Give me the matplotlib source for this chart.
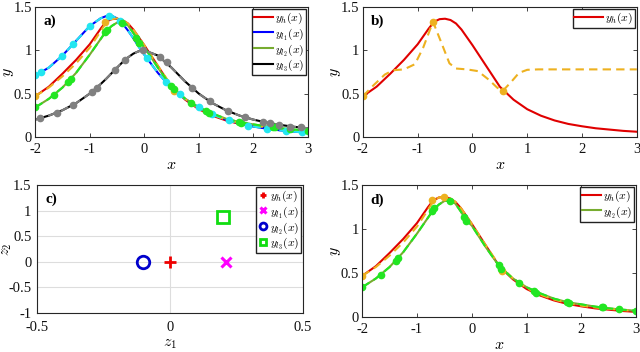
import matplotlib
matplotlib.use('Agg')
import matplotlib.pyplot as plt
from matplotlib.ticker import MultipleLocator, FuncFormatter

plt.rcParams['font.family'] = 'Liberation Serif'
plt.rcParams['mathtext.fontset'] = 'cm'
plt.rcParams['axes.unicode_minus'] = False

# common x grid for the curves
x = [-2, -1.75, -1.5, -1.25, -1, -0.8, -0.7, -0.6, -0.5, -0.4, -0.3, -0.2, -0.1, 0,
     0.25, 0.5, 0.75, 1, 1.25, 1.5, 1.75, 2, 2.25, 2.5, 2.75, 3]

y_h = [0.47, 0.58, 0.73, 0.89, 1.07, 1.25, 1.33, 1.36, 1.365, 1.35, 1.31, 1.24, 1.15, 1.06,
       0.82, 0.58, 0.43, 0.32, 0.245, 0.19, 0.15, 0.123, 0.10, 0.085, 0.07, 0.06]
y_l1 = [0.71, 0.80, 0.94, 1.11, 1.28, 1.37, 1.395, 1.40, 1.37, 1.31, 1.23, 1.14, 1.04, 0.95,
        0.74, 0.56, 0.44, 0.34, 0.26, 0.20, 0.155, 0.12, 0.095, 0.075, 0.06, 0.05]
y_l2 = [0.34, 0.44, 0.57, 0.74, 0.95, 1.13, 1.22, 1.28, 1.32, 1.325, 1.29, 1.20, 1.10, 1.04,
        0.80, 0.58, 0.44, 0.34, 0.27, 0.21, 0.17, 0.145, 0.12, 0.10, 0.085, 0.072]
y_l3 = [0.2, 0.246, 0.308, 0.39, 0.5, 0.61, 0.67, 0.735, 0.8, 0.862, 0.917, 0.962, 0.99, 1.0,
        0.94, 0.8, 0.64, 0.5, 0.39, 0.308, 0.246, 0.2, 0.165, 0.138, 0.117, 0.1]
# multi-fidelity prediction of y_h (dashed orange in a and d)
y_mf = [0.47, 0.57, 0.70, 0.85, 1.03, 1.22, 1.32, 1.36, 1.37, 1.35, 1.31, 1.24, 1.15, 1.06,
        0.82, 0.59, 0.44, 0.33, 0.255, 0.20, 0.16, 0.13, 0.11, 0.095, 0.08, 0.07]

# single-fidelity prediction (panel b)
x_sf = [-2, -1.8, -1.6, -1.45, -1.25, -1.05, -0.9, -0.72, -0.55, -0.42, -0.3, -0.1, 0.1,
        0.3, 0.45, 0.55, 0.7, 0.85, 1.0, 1.2, 3.0]
y_sf = [0.47, 0.60, 0.72, 0.77, 0.78, 0.84, 1.03, 1.33, 1.06, 0.85, 0.79, 0.78, 0.76,
        0.66, 0.57, 0.53, 0.63, 0.74, 0.775, 0.78, 0.78]

# training samples
xs_h = [-2, -0.72, 0.55]
ys_h = [0.47, 1.33, 0.53]
xs_h_d = [-2, -0.72, -0.5, 0.55]
ys_h_d = [0.47, 1.33, 1.365, 0.53]
xs_l1 = [-2, -1.9, -1.5, -1.3, -1.0, -0.65, -0.45, 0.05, 0.4, 0.65, 1.0, 1.25, 1.55, 1.9, 2.25, 2.6, 2.9]
ys_l1 = [0.71, 0.75, 0.94, 1.07, 1.28, 1.40, 1.34, 0.91, 0.63, 0.49, 0.35, 0.26, 0.19, 0.125, 0.095, 0.07, 0.055]
xs_l2 = [-2, -1.65, -1.39, -1.35, -0.72, -0.69, -0.4, -0.15, -0.1, 0.49, 0.54, 0.86, 1.13, 1.18,
         1.74, 1.77, 2.37, 2.4, 2.68, 3.0]
ys_l2 = [0.34, 0.48, 0.64, 0.67, 1.21, 1.24, 1.32, 1.14, 1.09, 0.59, 0.55, 0.39, 0.30, 0.28,
         0.17, 0.165, 0.115, 0.112, 0.088, 0.072]
xs_l3 = [-1.91, -1.6, -1.3, -0.96, -0.87, -0.54, -0.35, -0.02, 0.29, 0.41, 0.87, 1.2, 1.54,
         1.84, 2.18, 2.3, 2.48, 2.67, 2.88]
ys_l3 = [0.215, 0.28, 0.37, 0.52, 0.57, 0.77, 0.89, 1.0, 0.92, 0.86, 0.57, 0.41, 0.30,
         0.23, 0.17, 0.16, 0.14, 0.12, 0.11]

# latent positions (panel c)
z_names = ['$y_h(x)$', '$y_{l_1}(x)$', '$y_{l_2}(x)$', '$y_{l_3}(x)$']
z1 = [0.0, 0.21, -0.1, 0.2]
z2 = [0.0, 0.0, 0.0, 0.87]

RED = '#e00000'
BLUE = '#0000ff'
OLIVE = '#77ac30'
ORANGE = '#edb120'
CYAN = '#22e6f0'
LGREEN = '#22e622'
GRAY = '#808080'
EDGE = '#262626'

fig = plt.figure(figsize=(6.4, 3.52), dpi=100)
ax_a = fig.add_axes([0.055, 0.611, 0.426, 0.369])
ax_b = fig.add_axes([0.567, 0.611, 0.428, 0.369])
ax_c = fig.add_axes([0.058, 0.111, 0.415, 0.363])
ax_d = fig.add_axes([0.566, 0.099, 0.428, 0.375])

fmt = FuncFormatter(lambda v, p: '{:g}'.format(round(v, 3)))


def style(ax, xlab, ylab, inside=True):
    for s in ax.spines.values():
        s.set_color(EDGE)
        s.set_linewidth(0.8)
    ax.yaxis.set_major_locator(MultipleLocator(0.5))
    ax.xaxis.set_major_formatter(fmt)
    ax.yaxis.set_major_formatter(fmt)
    ax.tick_params(direction='in' if inside else 'out', top=inside, right=inside,
                   labelsize=10.5, length=3, colors=EDGE, width=0.6)
    ax.tick_params(axis='x', pad=4.5)
    ax.tick_params(axis='y', pad=2.5)
    for t in ax.get_xticklabels() + ax.get_yticklabels():
        t.set_color('#111111')
    ax.set_xlabel(xlab, fontsize=11.5, labelpad=0.5)
    ax.set_ylabel(ylab, fontsize=11.5)
    ax.yaxis.set_label_coords(-0.072, 0.5)


def leg(ax, **kw):
    l = ax.legend(loc='upper right', fontsize=8.5, fancybox=False, framealpha=1,
                  borderpad=0.15, labelspacing=0.0, handletextpad=0.2,
                  borderaxespad=0.15, **kw)
    l.get_frame().set_edgecolor('#222222')
    l.get_frame().set_linewidth(1.0)
    return l


# a)
ax_a.plot(x, y_h, color=RED, lw=1.5, label='$y_h(x)$')
ax_a.plot(x, y_l1, color=BLUE, lw=1.5, label='$y_{l_1}(x)$')
ax_a.plot(x, y_l2, color=OLIVE, lw=1.5, label='$y_{l_2}(x)$')
ax_a.plot(x, y_l3, color='black', lw=1.5, label='$y_{l_3}(x)$')
ax_a.plot(x, y_mf, color=ORANGE, lw=1.5, ls=(0, (4, 2.5)))
ax_a.plot(x, y_l1, color=CYAN, lw=1.5, ls=(0, (4, 2.5)))
ax_a.plot(x, y_l2, color=LGREEN, lw=1.5, ls=(0, (4, 2.5)))
ax_a.plot(x, y_l3, color=GRAY, lw=1.5, ls=(0, (4, 2.5)))
ax_a.plot(xs_h, ys_h, 'o', color=ORANGE, ms=4.5)
ax_a.plot(xs_l1, ys_l1, 'o', color=CYAN, ms=4.5)
ax_a.plot(xs_l2, ys_l2, 'o', color=LGREEN, ms=4.5)
ax_a.plot(xs_l3, ys_l3, 'o', color=GRAY, ms=4.5)
ax_a.set_xlim(-2, 3)
ax_a.set_ylim(0, 1.5)
style(ax_a, '$x$', '$y$')
leg(ax_a, handlelength=1.6)
ax_a.text(0.03, 0.86, 'a)', transform=ax_a.transAxes, fontsize=11, fontweight='bold')

# b)
ax_b.plot(x, y_h, color=RED, lw=1.5, label='$y_h(x)$')
ax_b.plot(x_sf, y_sf, color=ORANGE, lw=1.5, ls=(0, (4, 2.5)))
ax_b.plot(xs_h, ys_h, 'o', color=ORANGE, ms=4.5)
ax_b.set_xlim(-2, 3)
ax_b.set_ylim(0, 1.5)
style(ax_b, '$x$', '$y$')
leg(ax_b, handlelength=2.4)
ax_b.text(0.03, 0.86, 'b)', transform=ax_b.transAxes, fontsize=11, fontweight='bold')

# c)
ax_c.grid(True, color='#dddddd', lw=0.8)
ax_c.set_axisbelow(True)
ax_c.plot(z1[0], z2[0], '+', color='#ee0000', ms=9, mew=2, ls='none', label=z_names[0])
ax_c.plot(z1[1], z2[1], 'x', color='#ff00ff', ms=7, mew=2.2, ls='none', label=z_names[1])
ax_c.plot(z1[2], z2[2], 'o', color='#0000cc', mfc='none', ms=9, mew=2, ls='none', label=z_names[2])
ax_c.plot(z1[3], z2[3], 's', color='#11dd11', mfc='none', ms=8, mew=2, ls='none', label=z_names[3])
ax_c.set_xlim(-0.5, 0.5)
ax_c.set_ylim(-1, 1.5)
ax_c.xaxis.set_major_locator(MultipleLocator(0.5))
style(ax_c, '$z_1$', '$z_2$', inside=False)
ax_c.tick_params(length=0)
ax_c.tick_params(axis='x', pad=6)
ax_c.tick_params(axis='y', pad=4)
ax_c.yaxis.label.set_fontsize(10.5)
ax_c.yaxis.set_label_coords(-0.088, 0.5)
lc = leg(ax_c, handlelength=0.8, markerscale=0.55)
ax_c.text(0.03, 0.86, 'c)', transform=ax_c.transAxes, fontsize=11, fontweight='bold')

# d)
ax_d.plot(x, y_h, color=RED, lw=1.5, label='$y_h(x)$')
ax_d.plot(x, y_l2, color=OLIVE, lw=1.5, label='$y_{l_2}(x)$')
ax_d.plot(x, y_mf, color=ORANGE, lw=1.5, ls=(0, (4, 2.5)))
ax_d.plot(x, y_l2, color=LGREEN, lw=1.5, ls=(0, (4, 2.5)))
ax_d.plot(xs_h_d, ys_h_d, 'o', color=ORANGE, ms=4.5)
ax_d.plot(xs_l2, ys_l2, 'o', color=LGREEN, ms=4.5)
ax_d.set_xlim(-2, 3)
ax_d.set_ylim(0, 1.5)
style(ax_d, '$x$', '$y$')
leg(ax_d, handlelength=1.6)
ax_d.text(0.03, 0.86, 'd)', transform=ax_d.transAxes, fontsize=11, fontweight='bold')

fig.savefig('out.png', dpi=100)
